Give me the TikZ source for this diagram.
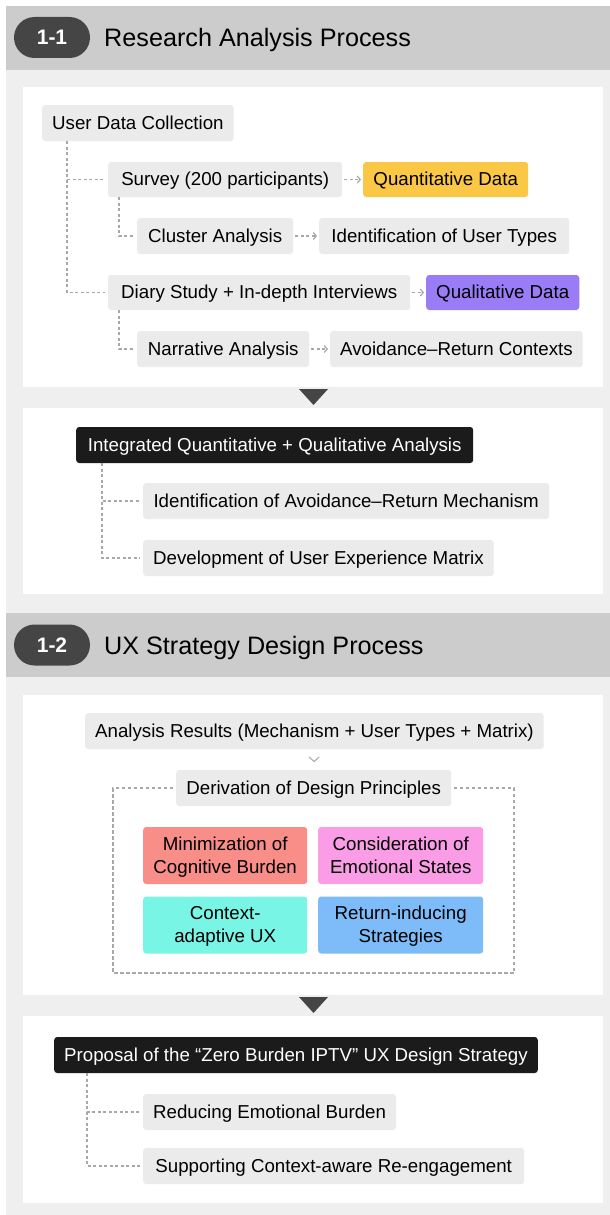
\documentclass[tikz,border=0pt]{standalone}
\usepackage{fontspec}
\setmainfont{Liberation Sans}
\usetikzlibrary{arrows.meta,calc}

\definecolor{pagebg}{HTML}{EFEFEF}
\definecolor{bandgrey}{HTML}{CCCCCC}
\definecolor{boxgrey}{HTML}{EBEBEB}
\definecolor{pillgrey}{HTML}{454545}
\definecolor{darkbox}{HTML}{1B1B1B}
\definecolor{linegrey}{HTML}{A8A8A8}
\definecolor{quantyellow}{HTML}{FBC845}
\definecolor{qualpurple}{HTML}{9B7CF7}
\definecolor{redbox}{HTML}{F98D87}
\definecolor{pinkbox}{HTML}{FA9DE6}
\definecolor{cyanbox}{HTML}{79F5E6}
\definecolor{bluebox}{HTML}{7DBCF8}

\newcommand\mybody{\fontsize{18.7}{23}\selectfont}
\newcommand\mytitle{\fontsize{25.2}{29}\selectfont}
\newcommand\mypill{\fontsize{21}{24}\selectfont\bfseries}

\begin{document}
\begin{tikzpicture}[x=1pt,y=-1pt,
  box/.style={fill=boxgrey, rounded corners=3pt, minimum height=36pt,
    inner xsep=10pt, inner ysep=0pt, font=\mybody, text=black, anchor=west,
    text height=12.5pt, text depth=0pt},
  darkbox/.style={box, fill=darkbox, text=white},
  tilebox/.style={box, minimum height=57pt, align=center,
    text height=35.5pt, text depth=0pt},
  pill/.style={fill=pillgrey, rounded corners=20.5pt, minimum width=76pt,
    minimum height=41pt, inner sep=0pt, text=white, font=\mypill,
    text height=14pt, text depth=0pt},
  headtitle/.style={anchor=west, inner sep=0pt, font=\mytitle, text=black,
    text height=17pt, text depth=0pt},
  tree/.style={draw=linegrey, line width=1.2pt, dash pattern=on 3pt off 2.5pt},
  darr/.style={draw=linegrey, line width=1.2pt, dash pattern=on 3pt off 2.5pt,
    shorten <=2pt, shorten >=2pt, -{Straight Barb[length=3pt,width=7pt,line width=1.2pt]}},
  frame/.style={draw=linegrey, line width=1.2pt, dash pattern=on 3.5pt off 2.5pt},
  panel/.style={fill=white},
  tri/.style={fill=pillgrey}
]
\useasboundingbox (0,0) rectangle (610,1215);
\fill[white] (0,0) rectangle (610,1215);
\fill[pagebg] (6,6) rectangle (610,1215);

% ---- section 1-1 header
\fill[bandgrey] (6,6) rectangle (610,70);
\node[pill] (p1) at (52,37.5) {1-1};
\node[headtitle] (t1) at (104,38) {Research Analysis Process};

% ---- panel: data collection
\fill[panel] (23,87) rectangle (603,387);
\node[box, minimum width=190pt] (udc) at (42,123) {User Data Collection};
\node[box, minimum width=234pt, minimum height=35pt] (survey) at (108,179.5) {Survey (200 participants)};
\node[box, fill=quantyellow, minimum width=165pt, minimum height=35pt] (quant) at (363,179.5) {Quantitative Data};
\node[box, minimum width=156pt] (cluster) at (137,236) {Cluster Analysis};
\node[box, minimum width=250pt] (utypes) at (319,236) {Identification of User Types};
\node[box, minimum width=302pt, minimum height=35pt] (diary) at (108,292.5) {Diary Study + In-depth Interviews};
\node[box, fill=qualpurple, minimum width=153pt, minimum height=35pt] (qual) at (426,292.5) {Qualitative Data};
\node[box, minimum width=172pt] (narr) at (137,349) {Narrative Analysis};
\node[box, minimum width=252pt] (avoid) at (330,349) {Avoidance–Return Contexts};

\draw[tree] ([xshift=25pt]udc.south west) |- ([xshift=-3pt]survey.west);
\draw[tree] ([xshift=25pt]udc.south west) |- ([xshift=-3pt]diary.west);
\draw[tree] ([xshift=11pt]survey.south west) |- ([xshift=-2pt]cluster.west);
\draw[tree] ([xshift=11pt]diary.south west) |- ([xshift=-2pt]narr.west);

\draw[darr] (survey.east) -- (quant.west);
\draw[darr] (cluster.east) -- (utypes.west);
\draw[darr] (diary.east) -- (qual.west);
\draw[darr] (narr.east) -- (avoid.west);

\fill[tri] (299,389) -- (328,389) -- (313.5,405) -- cycle;

% ---- panel: integrated analysis
\fill[panel] (23,408) rectangle (603,594);
\node[darkbox, minimum width=397pt] (integ) at (76,445) {Integrated Quantitative + Qualitative Analysis};
\node[box, minimum width=406pt] (mech) at (143,501) {Identification of Avoidance–Return Mechanism};
\node[box, minimum width=350pt] (matrix) at (143,558) {Development of User Experience Matrix};
\draw[tree] ([xshift=26pt]integ.south west) |- ([xshift=-3pt]mech.west);
\draw[tree] ([xshift=26pt]integ.south west) |- ([xshift=-3pt]matrix.west);

% ---- section 1-2 header
\fill[bandgrey] (6,613) rectangle (610,677);
\node[pill] (p2) at (52,645) {1-2};
\node[headtitle] (t2) at (104,645.5) {UX Strategy Design Process};

% ---- panel: design principles
\fill[panel] (23,695) rectangle (603,995);
\node[box, minimum width=456pt] (ares) at (85,731) {Analysis Results (Mechanism + User Types + Matrix)};
\node[box, minimum width=275pt] (deriv) at (176,788) {Derivation of Design Principles};
\coordinate (chev) at ($(ares.south)!0.5!(deriv.north)$);
\draw[draw=linegrey, line width=1pt] ($(chev)+(-5,-2.5)$) -- ($(chev)+(0,2)$) -- ($(chev)+(5,-2.5)$);
\draw[frame] ([xshift=-3pt]deriv.west) -| (113,973) -| (514,788) -- ([xshift=3pt]deriv.east);

\node[tilebox, fill=redbox, minimum width=164pt] (minim) at (143,855.5) {Minimization of\\Cognitive Burden};
\node[tilebox, fill=pinkbox, minimum width=165pt] (emot) at (318,855.5) {Consideration of\\Emotional States};
\node[tilebox, fill=cyanbox, minimum width=164pt] (ctx) at (143,925) {Context-\\adaptive UX};
\node[tilebox, fill=bluebox, minimum width=165pt] (ret) at (318,925) {Return-inducing\\Strategies};

\fill[tri] (299,997) -- (328,997) -- (313.5,1013) -- cycle;

% ---- panel: strategy proposal
\fill[panel] (23,1016) rectangle (603,1203);
\node[darkbox, minimum width=481pt] (prop) at (54,1055) {Proposal of the “Zero Burden IPTV” UX Design Strategy};
\node[box, minimum width=249pt] (reduce) at (143,1112) {Reducing Emotional Burden};
\node[box, minimum width=381pt] (support) at (143,1166) {Supporting Context-aware Re-engagement};
\draw[tree] ([xshift=33pt]prop.south west) |- ([xshift=-3pt]reduce.west);
\draw[tree] ([xshift=33pt]prop.south west) |- ([xshift=-3pt]support.west);
\end{tikzpicture}
\end{document}
